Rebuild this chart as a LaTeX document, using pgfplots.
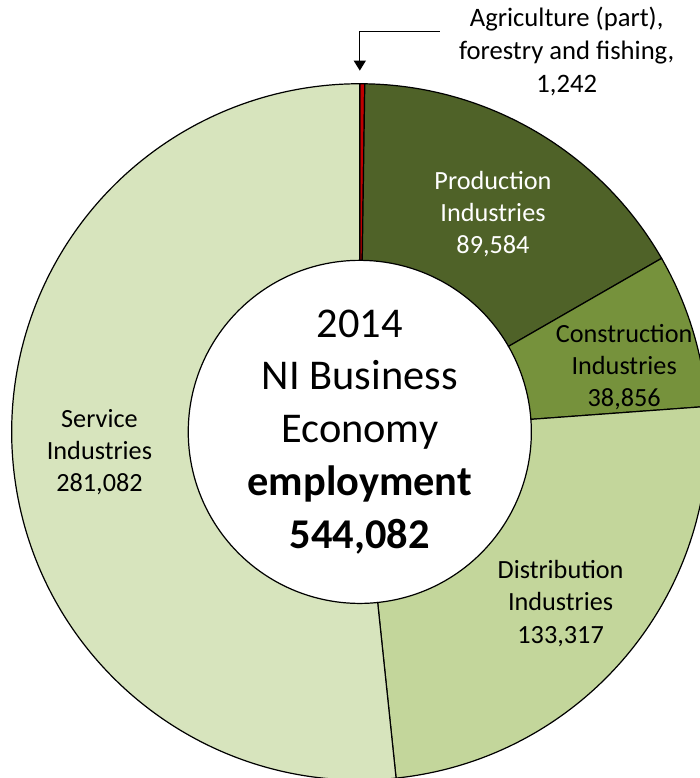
\documentclass[border=0pt]{standalone}
\usepackage{pgfplots}
\pgfplotsset{compat=1.18}
\usepackage{pgfplotstable}
\usepackage{fontspec}
\setmainfont{Carlito}
\usetikzlibrary{arrows.meta}

\definecolor{agri}{HTML}{C00000}
\definecolor{prod}{HTML}{4F6228}
\definecolor{cons}{HTML}{76923C}
\definecolor{dist}{HTML}{C3D69B}
\definecolor{serv}{HTML}{D7E4BD}

% employment by broad industry group, 2014
\pgfplotstableread{
sector value
agri 1242
prod 89584
cons 38856
dist 133317
serv 281082
}\empdata

\begin{document}
\begin{tikzpicture}
% cumulative sums -> sector boundaries
\expandafter\xdef\csname c0\endcsname{0}
\gdef\cum{0}
\pgfplotstableforeachcolumnelement{value}\of\empdata\as\v{%
  \xdef\cum{\fpeval{\cum+\v}}%
  \edef\nr{\fpeval{\pgfplotstablerow+1}}%
  \expandafter\xdef\csname c\nr\endcsname{\cum}}

\begin{axis}[
    width=347.5pt, height=389pt, scale only axis,
    xmin=-358, xmax=337, ymin=-343, ymax=435,
    hide axis,
]
\pgfplotsinvokeforeach{0,1,2,3,4}{
  \pgfplotstablegetelem{#1}{sector}\of\empdata \let\col\pgfplotsretval
  \edef\sa{\fpeval{round(90-360*\csname c#1\endcsname/\cum,4)}}
  \edef\nx{\fpeval{#1+1}}
  \edef\ea{\fpeval{round(90-360*\csname c\nx\endcsname/\cum,4)}}
  \edef\temp{\noexpand\filldraw[fill=\col, draw=black, line width=0.6pt]
    (axis cs:{345*cos(\sa)},{345*sin(\sa)}) arc[start angle=\sa, end angle=\ea, radius=172.5pt]
    -- (axis cs:{170*cos(\ea)},{170*sin(\ea)}) arc[start angle=\ea, end angle=\sa, radius=85pt]
    -- cycle;}
  \temp
}

\tikzset{lbl/.style={align=center, font=\fontsize{13}{16}\selectfont}}
\node[lbl, text=white] at (axis cs:132,216) {Production\\Industries\\89,584};
\node[lbl] at (axis cs:262,64) {Construction\\Industries\\38,856};
\node[lbl] at (axis cs:199,-170) {Distribution\\Industries\\133,317};
\node[lbl] at (axis cs:-258,-20) {Service\\Industries\\281,082};
\node[align=center, font=\fontsize{13.2}{16.5}\selectfont] at (axis cs:205,377) {Agriculture (part),\\forestry and fishing,\\1,242};
\node[align=center, font=\fontsize{21}{26.2}\selectfont] at (axis cs:0,0)
  {2014\\NI Business\\Economy\\\textbf{employment}\\\textbf{544,082}};
\draw[line width=0.6pt, -{Triangle[length=5pt,width=6pt]}] (axis cs:79,397) -- (axis cs:0,397) -- (axis cs:0,358);
\end{axis}
\end{tikzpicture}
\end{document}
